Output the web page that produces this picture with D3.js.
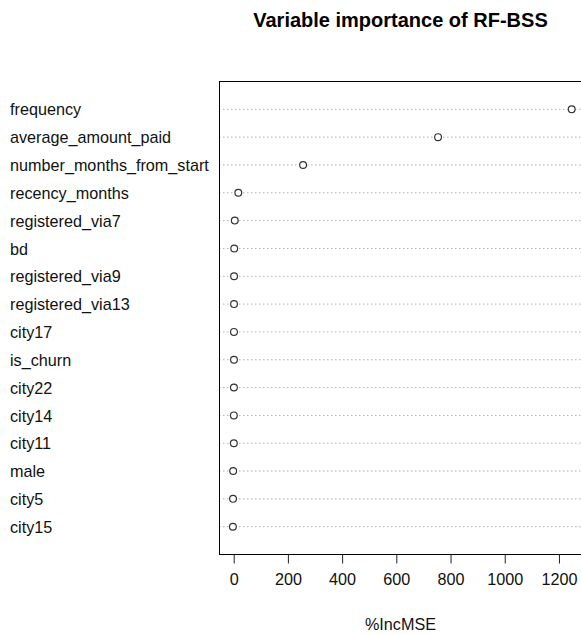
<!DOCTYPE html>
<html>
<head>
<meta charset="utf-8">
<script src="https://cdn.jsdelivr.net/npm/d3@7"></script>
<style>
  body { margin: 0; background: #fff; }
  svg { font-family: "Liberation Sans", Arial, sans-serif; }
</style>
</head>
<body>
<div id="okvir"></div>
<script>
const variables = ["frequency", "average_amount_paid", "number_months_from_start",
  "recency_months", "registered_via7", "bd", "registered_via9", "registered_via13",
  "city17", "is_churn", "city22", "city14", "city11", "male", "city5", "city15"]
const incMSE = [1247, 754, 256, 17, 4, 2, 1.5, 1.2, 1, 1, 0.8, 0.6, 0.5, -2, -2.5, -3]
const xTicks = [0, 200, 400, 600, 800, 1000, 1200]

const dataset = variables.map((v, i) => ({ name: v, value: incMSE[i] }))

const dim = {
  width: 581,
  height: 635,
  left: 219,
  right: 582,
  top: 81,
  bottom: 554,
}

const svg = d3.select("#okvir")
  .append("svg")
  .attr("width", dim.width)
  .attr("height", dim.height)

const xScale = d3.scaleLinear()
  .domain([-54.2, 1285])
  .range([dim.left, dim.right])

const yScale = d3.scalePoint()
  .domain(variables)
  .range([dim.top, dim.bottom])
  .padding(1)

// dotted guide lines
svg.append("g")
  .selectAll("line")
  .data(dataset)
  .join("line")
    .attr("x1", dim.left)
    .attr("x2", dim.right)
    .attr("y1", d => yScale(d.name) + 0.5)
    .attr("y2", d => yScale(d.name) + 0.5)
    .attr("stroke", "#b0b0b0")
    .attr("stroke-width", 1)
    .attr("stroke-dasharray", "1.5,2.5")

// points
svg.append("g")
  .selectAll("circle")
  .data(dataset)
  .join("circle")
    .attr("cx", d => xScale(d.value))
    .attr("cy", d => yScale(d.name) + 0.5)
    .attr("r", 3.4)
    .attr("fill", "#fff")
    .attr("stroke", "#333")
    .attr("stroke-width", 1.2)

// box
svg.append("rect")
  .attr("x", dim.left + 0.5)
  .attr("y", dim.top + 0.5)
  .attr("width", dim.right - dim.left)
  .attr("height", dim.bottom - dim.top)
  .attr("fill", "none")
  .attr("stroke", "#000")
  .attr("stroke-width", 1)

// labels
svg.append("g")
  .selectAll("text")
  .data(dataset)
  .join("text")
    .attr("x", 10)
    .attr("y", d => yScale(d.name) + 1)
    .attr("dy", "0.35em")
    .style("font-size", "16.2px")
    .attr("fill", "#111")
    .text(d => d.name)

// x axis
const xAxisGen = d3.axisBottom(xScale)
  .tickValues(xTicks)
  .tickFormat(d3.format("d"))
  .tickSize(9)
  .tickPadding(10)
const xAxis = svg.append("g")
  .attr("transform", `translate(0, ${dim.bottom + 0.5})`)
  .call(xAxisGen)
xAxis.select(".domain").remove()
xAxis.selectAll("line").attr("stroke", "#222")
xAxis.selectAll("text")
  .style("font-size", "16.2px")
  .style("font-family", "'Liberation Sans', Arial, sans-serif")
  .attr("fill", "#111")

svg.append("text")
  .attr("x", (dim.left + dim.right) / 2)
  .attr("y", 630)
  .attr("text-anchor", "middle")
  .style("font-size", "16.2px")
  .attr("fill", "#111")
  .text("%IncMSE")

svg.append("text")
  .attr("x", (dim.left + dim.right) / 2)
  .attr("y", 27)
  .attr("text-anchor", "middle")
  .style("font-size", "20px")
  .style("font-weight", "bold")
  .text("Variable importance of RF-BSS")
</script>
</body>
</html>
